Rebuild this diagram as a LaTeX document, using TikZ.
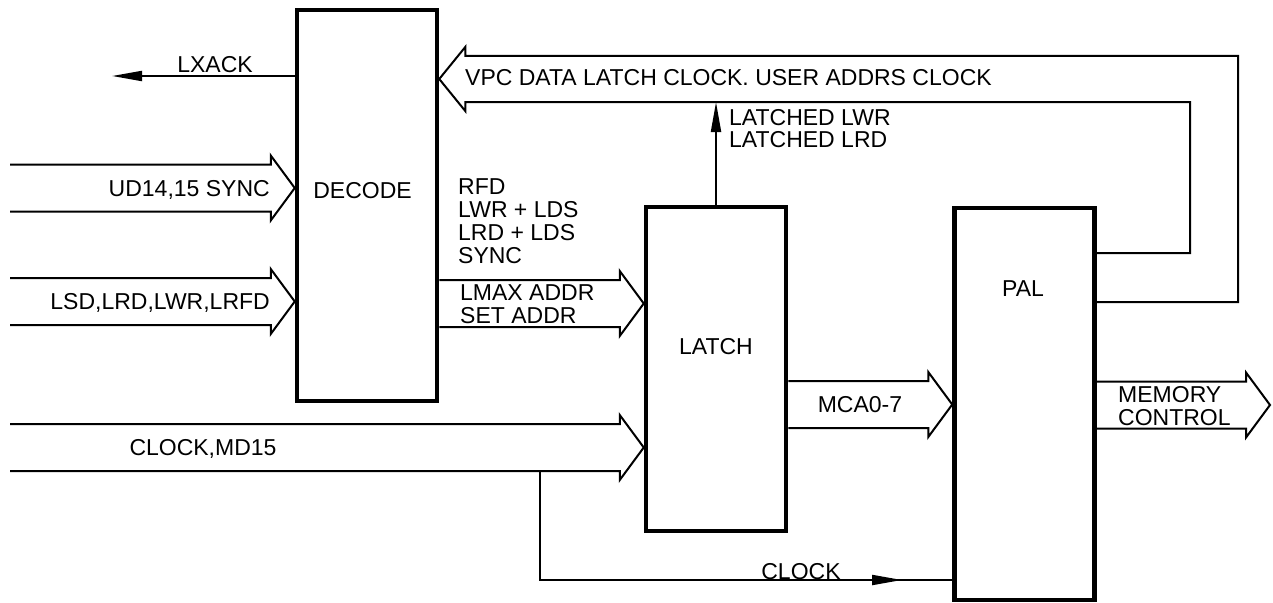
\documentclass[tikz,border=0pt]{standalone}
\usepackage{fontspec}
\setmainfont{Liberation Sans}
\usetikzlibrary{arrows.meta, calc}

% bus arrow: tail coordinate, tip coordinate (same height)
\newcommand{\busarrow}[2]{%
  \draw[busline] ($(#1)+(0,-23.5)$) -- ($(#2)+(-24,-23.5)$) -- ($(#2)+(-24,-32.5)$) -- (#2)
    -- ($(#2)+(-24,32.5)$) -- ($(#2)+(-24,23.5)$) -- ($(#1)+(0,23.5)$);}

\tikzset{
  blockbox/.style={draw, line width=4.5pt, minimum width=140pt, inner sep=0pt},
  busline/.style={line width=2pt, line join=miter},
  sigline/.style={line width=2pt},
  sigtip/.style={-{Triangle[length=30pt, width=10pt]}},
  lbl/.style={inner sep=0pt, align=left, font=\fontsize{23}{23}\selectfont}
}

\begin{document}
\begin{tikzpicture}[x=1pt, y=-1pt]
  \useasboundingbox (0,0) rectangle (1273,602);
  % Bloques
  \node[blockbox, minimum height=391pt] (decode) at (367,205.5) {};
  \node[blockbox, minimum height=324pt] (latch) at (716,369) {};
  \node[blockbox, minimum height=392pt] (pal) at (1024.5,404) {};
  \node[lbl] (decodelbl) at (362.5,191) {DECODE};
  \node[lbl] (latchlbl) at (716,347) {LATCH};
  \node[lbl] (pallbl) at (1023,289) {PAL};

  % Puntos de buses
  \coordinate (udtail) at (10,188);
  \coordinate (udtip) at (decode.west |- 0,188);
  \coordinate (lsdtail) at (10,301.5);
  \coordinate (lsdtip) at (decode.west |- 0,301.5);
  \coordinate (clktail) at (10,447.5);
  \coordinate (clktip) at (latch.west |- 0,447.5);
  \coordinate (lmaxtail) at (decode.east |- 0,303.5);
  \coordinate (lmaxtip) at (latch.west |- 0,303.5);
  \coordinate (mcatail) at (latch.east |- 0,404.5);
  \coordinate (mcatip) at (pal.west |- 0,404.5);
  \coordinate (memtail) at (pal.east |- 0,405);
  \coordinate (memtip) at (1270,405);
  \coordinate (vpctip) at (decode.east |- 0,79);

  % Buses
  \busarrow{udtail}{udtip}
  \busarrow{lsdtail}{lsdtip}
  \busarrow{clktail}{clktip}
  \busarrow{lmaxtail}{lmaxtip}
  \busarrow{mcatail}{mcatip}
  \busarrow{memtail}{memtip}
  \draw[busline] (pal.east |- 0,253) -| (1190,102) -- ($(vpctip)+(26,23)$) -- ($(vpctip)+(26,32)$)
    -- (vpctip) -- ($(vpctip)+(26,-32)$) -- ($(vpctip)+(26,-23)$) -| (1238,302) -- (pal.east |- 0,302);

  % Senales sueltas
  \coordinate (lxackend) at (112,76);
  \draw[sigline, sigtip] (decode.west |- lxackend) -- (lxackend);
  \draw[sigline, sigtip] (latch.north) -- (latch.north |- 0,102);
  \coordinate (clkbranch) at (540,471);
  \coordinate (clkmid) at (902,580);
  \draw[sigline, sigtip] (clkbranch) |- (clkmid);
  \draw[sigline] ($(clkmid)+(-6,0)$) -- (pal.west |- clkmid);

  % Textos
  \node[lbl] (lxacklbl) at (215,65) {LXACK};
  \node[lbl, anchor=east] (udlbl) at (270,190) {UD14,15 SYNC};
  \node[lbl, anchor=east] (lsdlbl) at (270,303) {LSD,LRD,LWR,LRFD};
  \node[lbl] (clkmdlbl) at (203,449) {CLOCK,MD15};
  \node[lbl, anchor=west] (vpclbl) at (465,78) {VPC DATA LATCH CLOCK. USER ADDRS CLOCK};
  \node[lbl, anchor=west] (rfdlbl) at (458,221.5) {RFD\\LWR + LDS\\LRD + LDS\\SYNC};
  \node[lbl, anchor=west] (lmaxlbl) at (460,304.5) {LMAX ADDR\\SET ADDR};
  \node[lbl, anchor=west, font=\fontsize{23}{22}\selectfont] (ltchdlbl) at (729,129) {LATCHED LWR\\LATCHED LRD};
  \node[lbl] (mcalbl) at (860,405) {MCA0-7};
  \node[lbl, anchor=west] (memlbl) at (1118,406) {MEMORY\\CONTROL};
  \node[lbl] (clocklbl) at (801,572) {CLOCK};
\end{tikzpicture}
\end{document}
